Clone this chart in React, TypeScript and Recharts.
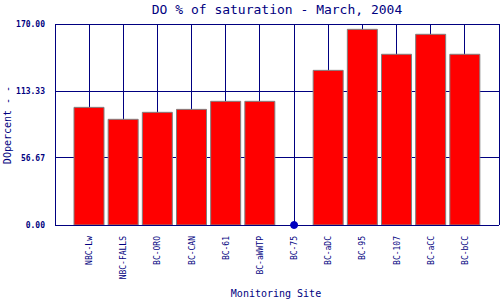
import { ComposedChart, Bar, Line, XAxis, YAxis, CartesianGrid } from "recharts"

const sites = ["NBC-Lw", "NBC-FALLS", "BC-ORO", "BC-CAN", "BC-61", "BC-aWWTP", "BC-75", "BC-aDC", "BC-95", "BC-107", "BC-aCC", "BC-bCC"]
const doPercent = [99.5, 89.4, 95.3, 97.8, 104.6, 104.6, null, 130.8, 165.5, 144.4, 161.3, 144.4]
// BC-75 has no bar, only a marker sitting on zero
const missingMarker = [null, null, null, null, null, null, 0, null, null, null, null, null]
const yTicks = [0, 56.67, 113.33, 170]

const NAVY = "#000080"
const FONT = "'DejaVu Sans Mono', monospace"

const chartData = sites.map((site, i) => ({
  site,
  value: doPercent[i],
  marker: missingMarker[i],
}))

const SiteTick = ({ x, y, payload }: any) => {
  const ty = y + 3
  return (
    <text
      x={x}
      y={ty}
      dy={3}
      transform={`rotate(-90 ${x} ${ty})`}
      textAnchor="end"
      fill={NAVY}
      fontSize={8}
      fontFamily={FONT}
    >
      {payload.value}
    </text>
  )
}

export default function App() {
  return (
    <div style={{ position: "absolute", left: 0, top: 0, width: 500, height: 300, background: "#fff" }}>
      <style>{".recharts-cartesian-grid line, .recharts-cartesian-axis-line { shape-rendering: crispEdges; }"}</style>
      <ComposedChart width={500} height={300} data={chartData} margin={{ top: 24, right: 0, left: 0, bottom: 0 }}>
        <CartesianGrid yAxisId="left" stroke={NAVY} strokeWidth={1} />
        <XAxis
          dataKey="site"
          interval={0}
          padding={{ left: 17, right: 17 }}
          height={75}
          tickLine={false}
          axisLine={{ stroke: NAVY }}
          tick={<SiteTick />}
        />
        <YAxis
          yAxisId="left"
          domain={[0, 170]}
          ticks={yTicks}
          width={55}
          tickLine={false}
          axisLine={{ stroke: NAVY }}
          tickFormatter={(v: number) => v.toFixed(2)}
          tick={{ fill: NAVY, fontSize: 8, fontFamily: FONT, fontWeight: "bold" }}
          tickMargin={4}
        />
        <YAxis yAxisId="right" orientation="right" domain={[0, 170]} width={1} tick={false} tickLine={false} axisLine={{ stroke: NAVY }} />
        <Bar yAxisId="left" dataKey="value" fill="#ff0000" stroke="#808080" strokeWidth={1} barSize={30} isAnimationActive={false} />
        <Line
          yAxisId="left"
          dataKey="marker"
          stroke="none"
          dot={{ r: 3.5, fill: "#0000c0", stroke: "#0000c0" }}
          isAnimationActive={false}
        />
        <text x={277} y={14} textAnchor="middle" fill={NAVY} fontSize={13} fontFamily={FONT}>
          DO % of saturation - March, 2004
        </text>
        <text x={276} y={297} textAnchor="middle" fill={NAVY} fontSize={10} fontFamily={FONT}>
          Monitoring Site
        </text>
        <text x={11} y={125} transform="rotate(-90 11 125)" textAnchor="middle" fill={NAVY} fontSize={10} fontFamily={FONT}>
          DOpercent - -
        </text>
      </ComposedChart>
    </div>
  )
}
